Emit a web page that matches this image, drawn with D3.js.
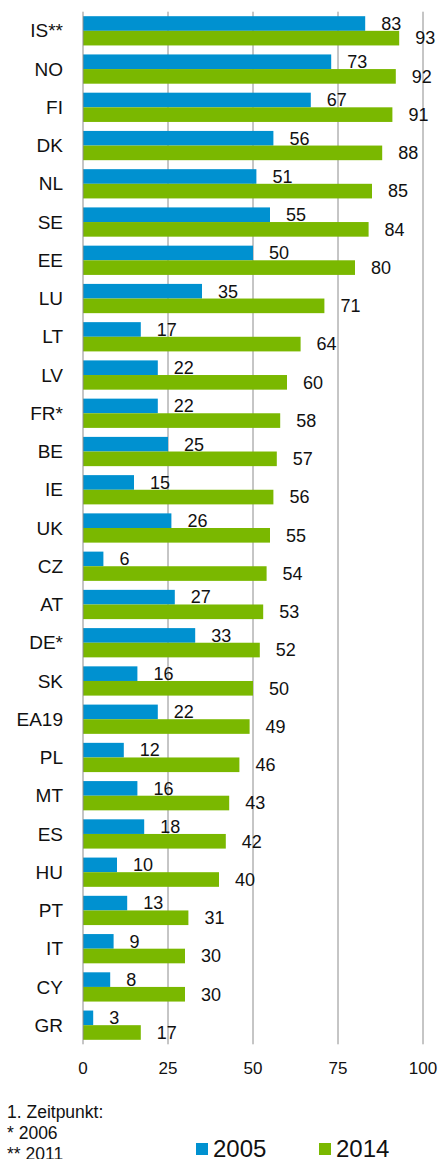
<!DOCTYPE html>
<html>
<head>
<meta charset="utf-8">
<script src="https://cdn.jsdelivr.net/npm/d3@7"></script>
<style>
  body { margin: 0; background: #fff; }
  svg { font-family: "Liberation Sans", Arial, sans-serif; }
</style>
</head>
<body>
<div id="chart"></div>
<script>
// Categories (top to bottom) and values
const countries = ['IS**', 'NO', 'FI', 'DK', 'NL', 'SE', 'EE', 'LU', 'LT', 'LV', 'FR*', 'BE', 'IE', 'UK',
    'CZ', 'AT', 'DE*', 'SK', 'EA19', 'PL', 'MT', 'ES', 'HU', 'PT', 'IT', 'CY', 'GR'];
const values2005 = [83, 73, 67, 56, 51, 55, 50, 35, 17, 22, 22, 25, 15, 26, 6, 27, 33, 16, 22, 12, 16, 18, 10, 13, 9, 8, 3];
const values2014 = [93, 92, 91, 88, 85, 84, 80, 71, 64, 60, 58, 57, 56, 55, 54, 53, 52, 50, 49, 46, 43, 42, 40, 31, 30, 30, 17];
const seriesNames = ['2005', '2014'];
const xTicks = [0, 25, 50, 75, 100];
const footnotes = ['1. Zeitpunkt:', '* 2006', '** 2011'];

const colors = { '2005': '#0091d0', '2014': '#7ab800' };

const width = 439, height = 1159;
const margin = { top: 11.7, left: 83, right: 16, bottom: 114.7 };

const svg = d3.select('#chart').append('svg')
    .attr('width', width)
    .attr('height', height);

const x = d3.scaleLinear()
    .domain([0, 100])
    .range([margin.left, width - margin.right]);

const y = d3.scaleBand()
    .domain(countries)
    .range([margin.top, height - margin.bottom])
    .paddingInner(0.235)
    .paddingOuter(0.1175);

const ySub = d3.scaleBand()
    .domain(seriesNames)
    .range([0, y.bandwidth()]);

// gridlines
svg.append('g')
    .selectAll('line')
    .data(xTicks.slice(1))
    .join('line')
    .attr('x1', d => x(d)).attr('x2', d => x(d))
    .attr('y1', margin.top).attr('y2', height - margin.bottom)
    .attr('stroke', '#8c8c8c')
    .attr('stroke-width', 1);

// bars
const rows = countries.map((c, i) => ({ c, v: { '2005': values2005[i], '2014': values2014[i] } }));

const groups = svg.append('g')
    .selectAll('g')
    .data(rows)
    .join('g')
    .attr('transform', d => `translate(0,${y(d.c)})`);

groups.selectAll('rect')
    .data(d => seriesNames.map(s => ({ s, v: d.v[s] })))
    .join('rect')
    .attr('x', x(0))
    .attr('y', d => ySub(d.s))
    .attr('width', d => x(d.v) - x(0))
    .attr('height', ySub.bandwidth())
    .attr('fill', d => colors[d.s]);

groups.selectAll('text')
    .data(d => seriesNames.map(s => ({ s, v: d.v[s] })))
    .join('text')
    .attr('x', d => x(d.v) + 16)
    .attr('y', d => ySub(d.s) + ySub.bandwidth() / 2)
    .attr('dy', '0.35em')
    .attr('font-size', 18)
    .attr('fill', '#111')
    .text(d => d.v);

// category axis line
svg.append('line')
    .attr('x1', x(0)).attr('x2', x(0))
    .attr('y1', margin.top).attr('y2', height - margin.bottom)
    .attr('stroke', '#8c8c8c');

// category labels
svg.append('g')
    .selectAll('text')
    .data(countries)
    .join('text')
    .attr('x', 63)
    .attr('y', d => y(d) + y.bandwidth() / 2)
    .attr('dy', '0.35em')
    .attr('text-anchor', 'end')
    .attr('font-size', 19)
    .attr('fill', '#111')
    .text(d => d);

// x tick labels
svg.append('g')
    .selectAll('text')
    .data(xTicks)
    .join('text')
    .attr('x', d => x(d))
    .attr('y', 1068)
    .attr('dy', '0.35em')
    .attr('text-anchor', 'middle')
    .attr('font-size', 17)
    .attr('fill', '#111')
    .text(d => d);

// footnotes
svg.append('g')
    .selectAll('text')
    .data(footnotes)
    .join('text')
    .attr('x', 7)
    .attr('y', (d, i) => 1118 + i * 21)
    .attr('font-size', 17.5)
    .attr('fill', '#111')
    .text(d => d);

// legend
const legendPos = { '2005': 196, '2014': 319 };
const legend = svg.append('g')
    .selectAll('g')
    .data(seriesNames)
    .join('g')
    .attr('transform', d => `translate(${legendPos[d]},1143)`);

legend.append('rect')
    .attr('width', 12)
    .attr('height', 12)
    .attr('fill', d => colors[d]);

legend.append('text')
    .attr('x', 17)
    .attr('y', 14)
    .attr('font-size', 24)
    .attr('fill', '#111')
    .text(d => d);
</script>
</body>
</html>
